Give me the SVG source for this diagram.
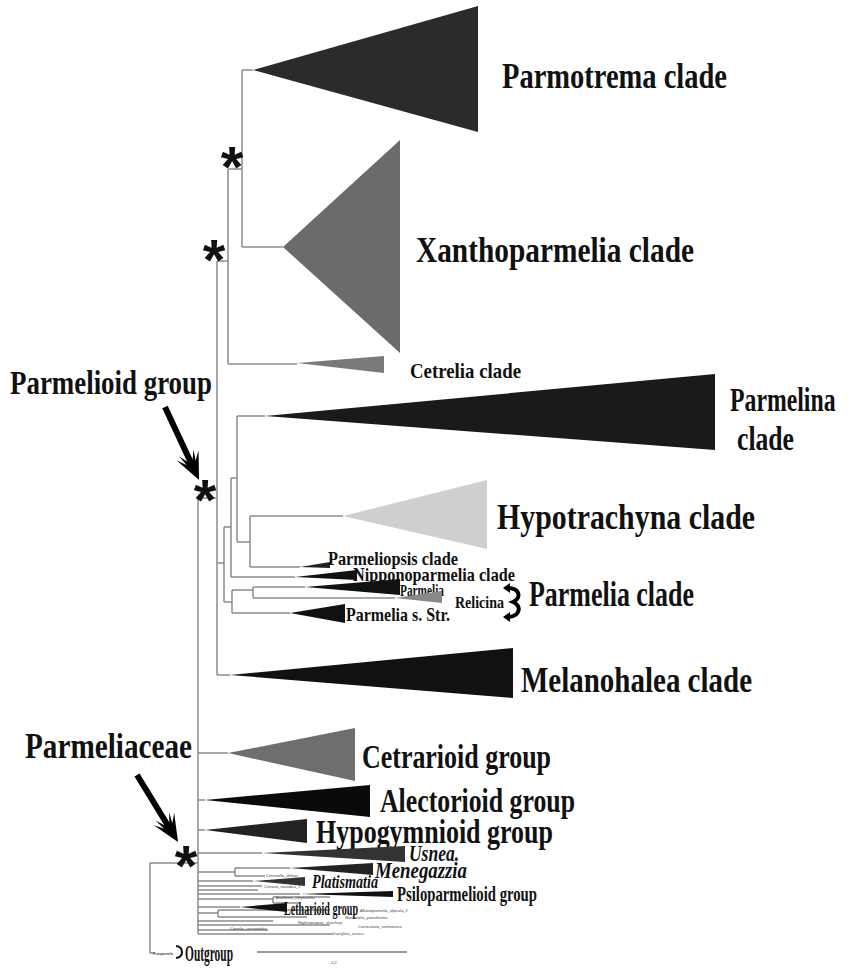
<svg xmlns="http://www.w3.org/2000/svg" width="848" height="968" viewBox="0 0 848 968">
<style>
.br{stroke:#8c8c8c;stroke-width:1.5;fill:none}
.lbl{font-family:"Liberation Serif","Times New Roman",serif;font-weight:bold;fill:#111}
.it{font-style:italic}
.tiny{font-family:"Liberation Sans",Arial,sans-serif;font-size:4px;fill:#444}
.ast{font-family:"Liberation Sans",Arial,sans-serif;font-weight:bold;font-size:58px;fill:#111;text-anchor:middle}
.arr{stroke:#000;stroke-width:6;fill:none}
</style>
<defs>
<marker id="ah" viewBox="-32 -14 33 28" refX="-15" refY="0" markerWidth="33" markerHeight="28" markerUnits="userSpaceOnUse" orient="auto">
<path d="M0,0 L-27,-12 L-19,-5 L-30,-8 L-20,-2 L-20,2 L-30,8 L-19,5 L-27,12 Z" fill="#000"/>
</marker>
</defs>
<rect width="848" height="968" fill="#fff"/>
<g id="connectors">
<path class="br" d="M242,70H253M242,70V247M242,247H283M228,169H242M228,169V364M228,364H297M217,261H228M217,261V675M198,498H217M217,675H230"/>
<path class="br" d="M231,478H237M237,416V542M237,416H265M237,542H250M250,516V567M250,516H343M250,567H300M231,478V577M231,577H295M224,527H231M224,527V602M217,563H224M224,602H232M232,590V613M232,590H253M253,587V598M253,587H305M253,598H395M232,613H290"/>
<path class="br" d="M198,498V934M198,753H228M198,800H205M198,830H205M198,853H262M198,872H235M235,868V876M235,868H290M235,876H265M198,881H253M198,886H262M198,890H258M198,894H300M198,899H273M273,897V903M273,897H330M273,903H300M198,907H240M198,913H218M218,910V917M218,910H330M218,917H307M198,921H273M198,925H330M198,930H268M198,934H333"/>
<path class="br" d="M150,863H198M150,863V953M150,953H155"/>
<line class="arr" x1="165" y1="407" x2="192.7" y2="466.4" marker-end="url(#ah)"/>
<line class="arr" x1="137" y1="775" x2="170.2" y2="829.2" marker-end="url(#ah)"/>
</g>
<g id="parmotrema"><polygon points="253,70 478,6 478,132" fill="#2b2b2b"/><text class="lbl" x="502" y="88" font-size="36" textLength="225" lengthAdjust="spacingAndGlyphs">Parmotrema clade</text></g>
<g id="xanthoparmelia"><polygon points="283,247 400,140 400,353" fill="#6b6b6b"/><text class="lbl" x="416" y="262" font-size="36" textLength="278" lengthAdjust="spacingAndGlyphs">Xanthoparmelia clade</text></g>
<g id="cetrelia"><polygon points="297,363 384,356 384,373" fill="#7a7a7a"/><text class="lbl" x="410" y="378" font-size="21" textLength="111" lengthAdjust="spacingAndGlyphs">Cetrelia clade</text></g>
<g id="parmelina"><polygon points="265,416 715,374 715,450" fill="#1a1a1a"/><text class="lbl" transform="translate(730,411) scale(0.72,1)" font-size="33">Parmelina</text><text class="lbl" x="737" y="450" font-size="34" textLength="57" lengthAdjust="spacingAndGlyphs">clade</text></g>
<g id="hypotrachyna"><polygon points="343,516 487,480 487,549" fill="#cfcfcf"/><text class="lbl" x="497" y="529" font-size="36" textLength="258" lengthAdjust="spacingAndGlyphs">Hypotrachyna clade</text></g>
<g id="parmeliopsis"><polygon points="300,567 330,562 330,568" fill="#222"/><text class="lbl" x="328" y="565" font-size="19" textLength="130" lengthAdjust="spacingAndGlyphs">Parmeliopsis clade</text></g>
<g id="nipponoparmelia"><polygon points="295,577 357,570 357,580" fill="#111"/><text class="lbl" x="353" y="581" font-size="19" textLength="162" lengthAdjust="spacingAndGlyphs">Nipponoparmelia clade</text></g>
<g id="parmelia"><polygon points="305,587 400,579 400,595" fill="#111"/><text class="lbl" x="400" y="596" font-size="16" textLength="44" lengthAdjust="spacingAndGlyphs">Parmelia</text></g>
<g id="relicina"><polygon points="395,598 442,591 442,603" fill="#888"/><text class="lbl" x="455" y="608" font-size="16" textLength="49" lengthAdjust="spacingAndGlyphs">Relicina</text></g>
<g id="parmelia-clade"><path d="M506,588 C520,587 522,598 513,602 C522,606 520,616 509,617" stroke="#000" stroke-width="4" fill="none"/><polygon points="503,588 510,583 510,593" fill="#000"/><polygon points="503,617 510,612 510,622" fill="#000"/><text class="lbl" x="529" y="606" font-size="35" textLength="165" lengthAdjust="spacingAndGlyphs">Parmelia clade</text></g>
<g id="parmelia-ss"><polygon points="290,613 345,604 345,623" fill="#111"/><text class="lbl" x="346" y="621" font-size="19" textLength="104" lengthAdjust="spacingAndGlyphs">Parmelia s. Str.</text></g>
<g id="melanohalea"><polygon points="230,675 513,648 513,698" fill="#111"/><text class="lbl" x="521" y="692" font-size="36" textLength="231" lengthAdjust="spacingAndGlyphs">Melanohalea clade</text></g>
<g id="parmelioid-group"><text class="lbl" x="10" y="394" font-size="34" textLength="202" lengthAdjust="spacingAndGlyphs">Parmelioid group</text></g>
<g id="cetrarioid"><polygon points="228,753 355,728 355,781" fill="#6e6e6e"/><text class="lbl" x="362" y="768" font-size="33" textLength="189" lengthAdjust="spacingAndGlyphs">Cetrarioid group</text></g>
<g id="alectorioid"><polygon points="205,800 370,785 370,817" fill="#0a0a0a"/><text class="lbl" x="380" y="812" font-size="33" textLength="195" lengthAdjust="spacingAndGlyphs">Alectorioid group</text></g>
<g id="hypogymnioid"><polygon points="205,830 307,819 307,843" fill="#222"/><text class="lbl" x="316" y="843" font-size="33" textLength="237" lengthAdjust="spacingAndGlyphs">Hypogymnioid group</text></g>
<g id="parmeliaceae"><text class="lbl" x="25" y="758" font-size="36" textLength="167" lengthAdjust="spacingAndGlyphs">Parmeliaceae</text></g>
<g id="usnea"><polygon points="262,853 405,846 405,862" fill="#333"/><text class="lbl it" x="409" y="861" font-size="23" textLength="50" lengthAdjust="spacingAndGlyphs">Usnea.</text></g>
<g id="menegazzia"><polygon points="290,868 373,863 373,875" fill="#222"/><text class="lbl it" x="375" y="878" font-size="24" textLength="92" lengthAdjust="spacingAndGlyphs">Menegazzia</text></g>
<g id="platismatia"><polygon points="253,881 305,877 305,886" fill="#333"/><text class="lbl it" x="312" y="888" font-size="19" textLength="66" lengthAdjust="spacingAndGlyphs">Platismatia</text></g>
<g id="psiloparmelioid"><polygon points="300,894 393,891 393,897" fill="#111"/><text class="lbl" x="397" y="901" font-size="21" textLength="140" lengthAdjust="spacingAndGlyphs">Psiloparmelioid group</text></g>
<g id="letharioid"><polygon points="240,907 287,903 287,912" fill="#111"/><text class="lbl" x="284" y="915" font-size="19" textLength="74" lengthAdjust="spacingAndGlyphs">Letharioid group</text></g>
<g id="small-taxa">
<text class="tiny" x="266" y="877">Cetrariella_delisei</text>
<text class="tiny" x="264" y="888">Cetraria_islandica_1</text>
<text class="tiny" x="276" y="899">Asahinea_chrysantha</text>
<text class="tiny" x="360" y="912">Allantoparmelia_alpicola_2</text>
<text class="tiny" x="345" y="919">Montanelia_panniformis</text>
<text class="tiny" x="298" y="924">Nephromopsis_stracheyi</text>
<text class="tiny" x="358" y="928">Cornicularia_normoerica</text>
<text class="tiny" x="230" y="930">Cetrelia_cetrarioides</text>
<text class="tiny" x="333" y="935">Dactylina_arctica</text>
</g>
<g id="outgroup"><text class="tiny" x="153" y="955" font-weight="bold" textLength="20" lengthAdjust="spacingAndGlyphs">Protoparmelia</text><path d="M176,946 C184,947 184,957 176,958" stroke="#111" stroke-width="2" fill="none"/><text class="lbl" x="185" y="961" font-size="24" textLength="48" lengthAdjust="spacingAndGlyphs">Outgroup</text></g>
<g id="scale"><line x1="257" y1="952" x2="407" y2="952" stroke="#777" stroke-width="1.5"/><text class="tiny" x="334" y="964" text-anchor="middle" font-size="5">0.2</text></g>
<g id="asterisks">
<text class="ast" x="232" y="187">*</text>
<text class="ast" x="214" y="280">*</text>
<text class="ast" x="205" y="520">*</text>
<text class="ast" x="186" y="886">*</text>
</g>
</svg>
